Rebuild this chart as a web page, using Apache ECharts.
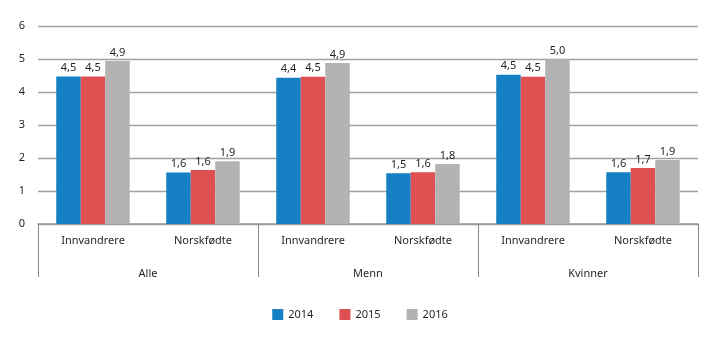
<!DOCTYPE html>
<html><head><meta charset="utf-8">
<script src="https://cdn.jsdelivr.net/npm/echarts@6/dist/echarts.min.js"></script>
<style>html,body{margin:0;padding:0;background:#fff}#c{width:720px;height:341px}</style>
</head><body><div id="c"></div>
<script>
var subCategories = ['Innvandrere','Norskfødte','Innvandrere','Norskfødte','Innvandrere','Norskfødte'];
var groups = ['Alle','Menn','Kvinner'];
var years = ['2014','2015','2016'];
var v2014 = [4.47, 1.56, 4.43, 1.54, 4.52, 1.57];
var v2015 = [4.47, 1.64, 4.46, 1.57, 4.46, 1.70];
var v2016 = [4.94, 1.90, 4.88, 1.82, 4.99, 1.94];
var yTicks = [0,1,2,3,4,5,6];
var colors = ['#1580c3','#de5052','#b3b3b3'];

var font = 'Noto Sans';
var txt = '#231f20';
function mk(name, data, color){
  return {name:name, type:'bar', data:data, barWidth:24.5, barGap:'0%',
    itemStyle:{color:color},
    label:{show:true, position:'top', distance:3, color:txt, fontFamily:font, fontSize:11,
      formatter:function(p){return p.value.toFixed(1).replace('.',',');}}};
}
var chart = echarts.init(document.getElementById('c'));
chart.setOption({
  animation:false,
  grid:{left:38,right:22,top:26,bottom:117},
  legend:{bottom:16,left:'center',itemWidth:11,itemHeight:11,itemGap:26,icon:'rect',
    textStyle:{fontFamily:font,fontSize:11,color:txt},data:years},
  xAxis:[
    {type:'category',data:subCategories,position:'bottom',
     axisLine:{lineStyle:{color:'#999',width:1.5}},axisTick:{show:false},
     axisLabel:{margin:11,fontFamily:font,fontSize:11,color:txt}},
    {type:'category',data:groups,position:'bottom',gridIndex:0,
     axisLine:{show:false},
     axisTick:{show:true,length:53,inside:false,lineStyle:{color:'#888',width:1}},
     axisLabel:{margin:44,fontFamily:font,fontSize:11,color:txt}}
  ],
  yAxis:{type:'value',min:yTicks[0],max:yTicks[yTicks.length-1],interval:1,
    axisLine:{show:false},axisTick:{show:false},
    splitLine:{lineStyle:{color:'#a0a0a0',width:1.3}},
    axisLabel:{margin:13,fontFamily:font,fontSize:11,color:txt}},
  series:[mk(years[0],v2014,colors[0]),mk(years[1],v2015,colors[1]),mk(years[2],v2016,colors[2])]
});
</script></body></html>
